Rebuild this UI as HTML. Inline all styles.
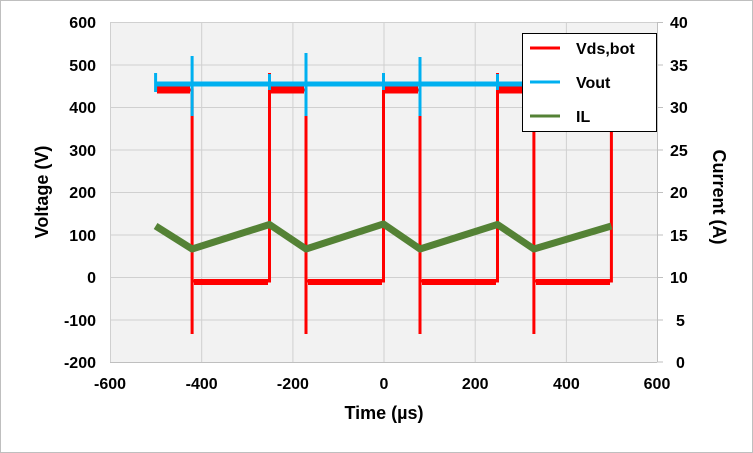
<!DOCTYPE html>
<html><head><style>body{margin:0;background:#fff}svg{display:block}text{font-family:"Liberation Sans",sans-serif;font-weight:bold;fill:#000}</style></head><body>
<svg width="753" height="453" viewBox="0 0 753 453">
<rect x="0.5" y="0.5" width="752" height="452" fill="#fff" stroke="#bfbfbf"/>
<rect x="110" y="22" width="547" height="340" fill="#f2f2f2"/>
<g stroke="#d0d0d0" stroke-width="1">
<path d="M110,22.5H657M110,65H657M110,107.5H657M110,150H657M110,192.5H657M110,235H657M110,277.5H657M110,320H657"/>
<path d="M110.5,22V362M201.7,22V362M292.9,22V362M384,22V362M475.2,22V362M566.4,22V362"/>
</g>
<path d="M110,362.5H657M657.5,22V362" stroke="#bfbfbf" fill="none"/>
<path d="M657,22.5h6M657,65h6M657,107.5h6M657,150h6M657,192.5h6M657,235h6M657,277.5h6M657,320h6M657,362h6" stroke="#bfbfbf"/>
<g font-size="16" text-anchor="end">
<text x="96" y="28">600</text><text x="96" y="71">500</text><text x="96" y="113">400</text><text x="96" y="156">300</text><text x="96" y="198">200</text><text x="96" y="241">100</text><text x="96" y="283">0</text><text x="96" y="326">-100</text><text x="96" y="368">-200</text>
</g>
<g font-size="16" text-anchor="start">
<text x="670" y="28">40</text><text x="670" y="71">35</text><text x="670" y="113">30</text><text x="670" y="156">25</text><text x="670" y="198">20</text><text x="670" y="241">15</text><text x="670" y="283">10</text><text x="676" y="326">5</text><text x="676" y="368">0</text>
</g>
<g font-size="16" text-anchor="middle">
<text x="110" y="389">-600</text><text x="201.7" y="389">-400</text><text x="292.9" y="389">-200</text><text x="384" y="389">0</text><text x="475.2" y="389">200</text><text x="566.4" y="389">400</text><text x="657" y="389">600</text>
</g>
<text x="384" y="419" font-size="18" text-anchor="middle">Time (µs)</text>
<text transform="translate(48,192) rotate(-90)" font-size="18" text-anchor="middle">Voltage (V)</text>
<text transform="translate(713,197) rotate(90)" font-size="18" text-anchor="middle">Current (A)</text>
<path d="M155.6,90H192.1V334V281H269.5V73V90H306V334V281H383.5V73V90H420V334V281H497.5V73V90H533.9V334V281H611.4V125" fill="none" stroke="#ff0000" stroke-width="3"/>
<path d="M157,90H190M271,90H304M385,90H418M499,90H532" stroke="#ff0000" stroke-width="7"/>
<path d="M157,282H190M271,282H304M385,282H418M499,282H532" fill="none"/>
<path d="M194,282H268M308,282H382M422,282H496M536,282H610" stroke="#ff0000" stroke-width="6"/>
<path d="M155.6,84H611M155.6,73V92M192.1,56V116M306,53V116M420,57V116M533.9,58V116M269.5,74V90M383.5,73V90M497.5,74V90" fill="none" stroke="#00b0f0" stroke-width="3"/>
<path d="M155.6,84H611" stroke="#00b0f0" stroke-width="5"/>
<path d="M155.6,226L192.1,249L269.5,224.5L306,249L383.5,224L420,249L497.5,224.5L533.9,249L611.4,226" fill="none" stroke="#548235" stroke-width="7" stroke-linejoin="round"/>
<rect x="522.5" y="33.5" width="134" height="98" fill="#fff" stroke="#000"/>
<path d="M530,48h30" stroke="#ff0000" stroke-width="3"/>
<path d="M530,82h30" stroke="#00b0f0" stroke-width="3"/>
<path d="M530,116h30" stroke="#548235" stroke-width="3"/>
<g font-size="16"><text x="576" y="54">Vds,bot</text><text x="576" y="88">Vout</text><text x="576" y="122">IL</text></g>
</svg>
</body></html>
